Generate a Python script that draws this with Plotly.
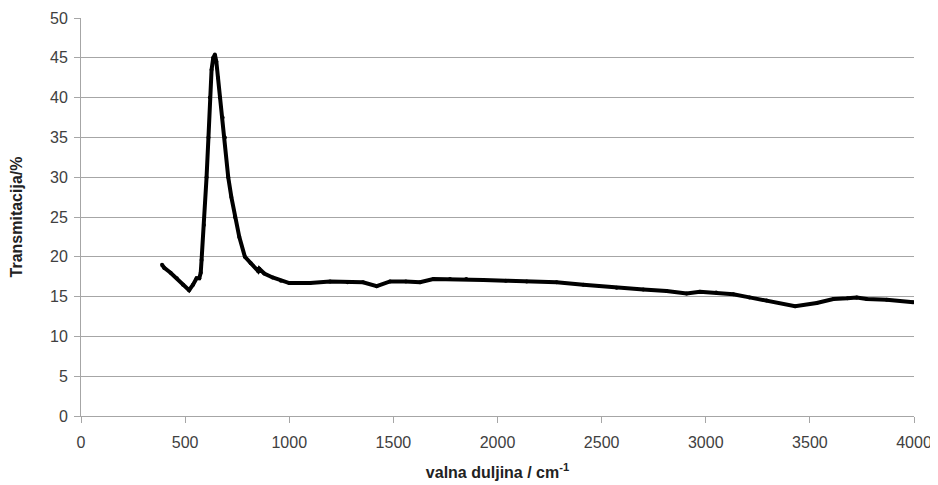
import plotly.graph_objects as go

# Values
wavenumber = [389, 400, 430, 460, 490, 519, 538, 555, 568, 575, 579, 590, 603,
              612, 619, 627, 635, 643, 650, 658, 667, 680, 691, 707, 722, 739,
              760, 787, 815, 851, 856, 880, 920, 960, 1000, 1052, 1100, 1196,
              1280, 1354, 1420, 1484, 1560, 1628, 1692, 1772, 1850, 1932, 2040,
              2140, 2284, 2412, 2572, 2700, 2812, 2908, 2972, 3050, 3132, 3210,
              3292, 3429, 3533, 3613, 3680, 3725, 3773, 3869, 3997]
transmittance = [19.0, 18.6, 18.0, 17.3, 16.5, 15.8, 16.5, 17.3, 17.3, 18.0,
                 19.6, 24.0, 30.0, 35.0, 40.0, 43.5, 45.0, 45.4, 44.5, 42.5,
                 40.0, 37.5, 35.0, 30.0, 27.5, 25.0, 22.5, 20.0, 19.2, 18.2,
                 18.5, 17.9, 17.4, 17.0, 16.7, 16.7, 16.7, 16.9, 16.8, 16.8,
                 16.3, 16.9, 16.9, 16.8, 17.2, 17.2, 17.2, 17.1, 17.0, 16.9,
                 16.8, 16.5, 16.1, 15.9, 15.7, 15.4, 15.6, 15.5, 15.3, 14.9,
                 14.5, 13.8, 14.2, 14.7, 14.8, 14.9, 14.7, 14.6, 14.3]

x_ticks = [0, 500, 1000, 1500, 2000, 2500, 3000, 3500, 4000]
y_ticks = [0, 5, 10, 15, 20, 25, 30, 35, 40, 45, 50]

GRID = "#a6a6a6"
FONT = "Liberation Sans, Arial"

fig = go.Figure()
fig.add_trace(go.Scatter(
    x=wavenumber, y=transmittance,
    mode="lines+markers",
    line=dict(color="black", width=4),
    marker=dict(color="black", size=4),
    showlegend=False,
))

# page body adds an 8px offset, so the figure is a bit smaller than the window
fig.update_layout(
    width=926, height=477,
    margin=dict(l=73, r=20, t=10, b=69),
    plot_bgcolor="white", paper_bgcolor="white",
    font=dict(family=FONT, size=16, color="#404040"),
)
fig.update_xaxes(
    range=[0, 4000], tickvals=x_ticks, automargin=False,
    showgrid=False, zeroline=False,
    showline=True, linecolor=GRID, linewidth=1,
    ticks="outside", ticklen=6, tickcolor=GRID, ticklabelstandoff=6,
    ticklabeloverflow="allow",
    title=dict(text="<b>valna duljina / cm<sup>-1</sup></b>",
               font=dict(size=16, color="#222"), standoff=16),
)
fig.update_yaxes(
    range=[0, 50], tickvals=y_ticks, automargin=False,
    showgrid=True, gridcolor=GRID, gridwidth=1, zeroline=False,
    showline=True, linecolor=GRID, linewidth=1,
    ticks="outside", ticklen=6, tickcolor=GRID, ticklabelstandoff=3,
    title=dict(text="<b>Transmitacija/%</b>",
               font=dict(size=16, color="#222"), standoff=24),
)

fig.write_html("out.html")
